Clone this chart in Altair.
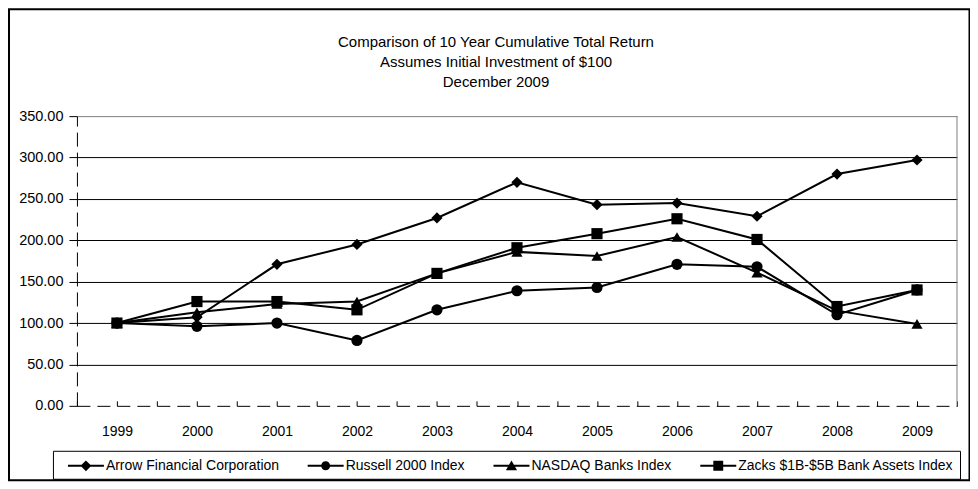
import altair as alt
import pandas as pd

years = [1999, 2000, 2001, 2002, 2003, 2004, 2005, 2006, 2007, 2008, 2009]
series_names = [
    "Arrow Financial Corporation",
    "Russell 2000 Index",
    "NASDAQ Banks Index",
    "Zacks $1B-$5B Bank Assets Index",
]
arrow = [100, 107, 171, 195, 227, 270, 243, 245, 229, 280, 297]
russell = [100, 96, 100, 79, 116, 139, 143, 171, 168, 110, 140]
nasdaq = [100, 113, 123, 126, 160, 186, 181, 204, 161, 115, 99]
zacks = [100, 126, 126, 116, 160, 191, 208, 226, 201, 120, 140]
title_lines = [
    "Comparison of 10 Year Cumulative Total Return",
    "Assumes Initial Investment of $100",
    "December 2009",
]

rows = []
for name, vals in zip(series_names, [arrow, russell, nasdaq, zacks]):
    for yr, v in zip(years, vals):
        rows.append({"year": yr, "value": v, "series": name})
df = pd.DataFrame(rows)

FONT = "Liberation Sans"
W, H = 881, 290

x_ticks = [years[0] - 0.5 + 0.5 * i for i in range(2 * len(years) + 1)]

x_enc = alt.X(
    "year:Q",
    scale=alt.Scale(domain=[years[0] - 0.5, years[-1] + 0.5], nice=False, zero=False),
    axis=alt.Axis(
        title=None,
        values=x_ticks,
        labelExpr="datum.value % 1 == 0 ? format(datum.value, 'd') : ''",
        grid=False,
        domainColor="black",
        domainDash=[13, 7],
        tickColor="black",
        tickSize={"expr": "-5"},
        labelPadding=24,
        labelFont=FONT,
        labelFontSize=14,
        labelColor="black",
        labelFlush=False,
    ),
)
y_enc = alt.Y(
    "value:Q",
    scale=alt.Scale(domain=[0, 350], nice=False),
    axis=alt.Axis(
        title=None,
        values=[0, 50, 100, 150, 200, 250, 300, 350],
        format=".2f",
        grid=True,
        gridColor={"condition": {"test": "datum.value === 350", "value": "#808080"}, "value": "black"},
        gridOpacity={"condition": {"test": "datum.value === 0", "value": 0}, "value": 1},
        domainColor="black",
        domainDash=[14, 6],
        tickColor="black",
        tickSize=8,
        labelPadding=6,
        labelFont=FONT,
        labelFontSize=14.5,
        labelColor="black",
    ),
)

base = alt.Chart(df)

lines = base.mark_line(color="black", strokeWidth=2).encode(
    x=x_enc, y=y_enc, detail="series:N"
)

points = base.mark_point(filled=True, color="black", size=125, opacity=1).encode(
    x="year:Q",
    y="value:Q",
    shape=alt.Shape(
        "series:N",
        scale=alt.Scale(domain=series_names, range=["diamond", "circle", "triangle-up", "square"]),
        legend=None,
    ),
)

# legend symbols: a short line with the marker on it (all sub-paths clockwise)
legend_paths = [
    "M-2,-0.11H2V0.11H-2ZM0,-0.6L0.6,0L0,0.6L-0.6,0Z",
    "M-2,-0.11H2V0.11H-2ZM-0.5,0A0.5,0.5,0,1,1,0.5,0A0.5,0.5,0,1,1,-0.5,0Z",
    "M-2,-0.11H2V0.11H-2ZM0,-0.6L0.62,0.5L-0.62,0.5Z",
    "M-2,-0.11H2V0.11H-2ZM-0.55,-0.55H0.55V0.55H-0.55Z",
]

legend_layer = base.transform_filter("false").mark_point(filled=True, color="black").encode(
    x="year:Q",
    y="value:Q",
    shape=alt.Shape(
        "series:N",
        scale=alt.Scale(domain=series_names, range=legend_paths),
        legend=alt.Legend(
            title=None,
            orient="none",
            legendX=-24,
            legendY=335,
            direction="horizontal",
            columns=4,
            strokeColor="black",
            padding=6,
            columnPadding=19,
            symbolSize=324,
            symbolOffset=18,
            labelOffset=11,
            labelLimit=0,
            labelFont=FONT,
            labelFontSize=14,
            labelColor="black",
            symbolFillColor="black",
            symbolStrokeWidth=0,
            symbolOpacity=1,
        ),
    ),
)

one = alt.Data(values=[{"k": 1}])
frame = alt.Chart(one).mark_rect(fillOpacity=0, stroke="black", strokeWidth=2).encode(
    x=alt.value(-68), x2=alt.value(893.5), y=alt.value(-107), y2=alt.value(364.5)
)
right_border = alt.Chart(one).mark_rule(color="#808080", strokeWidth=1).encode(
    x=alt.value(W), y=alt.value(0), y2=alt.value(H)
)

chart = (
    alt.layer(frame, lines, points, right_border, legend_layer)
    .resolve_scale(shape="independent")
    .properties(
        width=W,
        height=H,
        autosize=alt.AutoSizeParams(type="none"),
        padding={"left": 69, "top": 108, "right": 13, "bottom": 77},
        title=alt.TitleParams(
            text=title_lines,
            font=FONT,
            fontSize=15,
            fontWeight="normal",
            color="black",
            lineHeight=20,
            anchor="middle",
            dx=-21,
            dy=82,
            offset=0,
        ),
        background="white",
    )
    .configure_view(strokeWidth=0)
)

chart.save("out.html", embed_options={"renderer": "svg", "actions": False})
